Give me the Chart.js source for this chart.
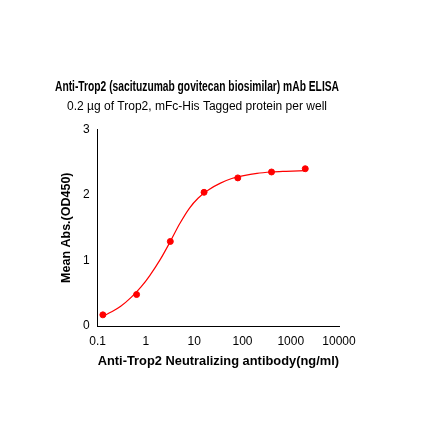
<!DOCTYPE html>
<html><head><meta charset="utf-8">
<script src="https://cdn.jsdelivr.net/npm/chart.js@4"></script>
<style>body{margin:0;background:#fff}#w{width:440px;height:441px}</style>
</head><body><div id="w"><canvas id="c"></canvas></div>
<script>
const concentrations = [0.128, 0.64, 3.2, 16, 80, 400, 2000];
const absorbance = [0.17, 0.48, 1.29, 2.04, 2.26, 2.35, 2.40];
const curveX = [0.128, 0.2, 0.3, 0.5, 0.8, 1.2, 2, 3.2, 5, 8, 12, 20, 35, 60, 100, 200, 400, 800, 2000];
const curveY = [0.15, 0.22, 0.30, 0.44, 0.60, 0.77, 1.02, 1.29, 1.56, 1.80, 1.95, 2.08, 2.18, 2.25, 2.29, 2.33, 2.35, 2.36, 2.37];
const xTicks = [0.1, 1, 10, 100, 1000, 10000];
const yTicks = [0, 1, 2, 3];
const FONT = '"Liberation Sans", Arial, sans-serif';

new Chart(document.getElementById('c'), {
    type: 'scatter',
    data: {
        datasets: [{
            data: concentrations.map((x, i) => ({x: x, y: absorbance[i]})),
            backgroundColor: '#ff0000',
            borderColor: '#ff0000',
            pointRadius: 3,
            order: 0
        }, {
            type: 'line',
            data: curveX.map((x, i) => ({x: x, y: curveY[i]})),
            borderColor: '#ff0000',
            borderWidth: 1.2,
            pointRadius: 0,
            cubicInterpolationMode: 'monotone',
            fill: false,
            order: 1
        }]
    },
    options: {
        responsive: true,
        maintainAspectRatio: false,
        animation: false,
        layout: {padding: {left: 55, right: 101, top: 8, bottom: 68}},
        plugins: {
            legend: {display: false},
            tooltip: {enabled: false},
            title: {
                display: true,
                text: 'Anti-Trop2 (sacituzumab govitecan biosimilar) mAb ELISA',
                color: '#000',
                font: {family: FONT, size: 15, weight: 'bold'},
                padding: {top: 70, bottom: 3}
            },
            subtitle: {
                display: true,
                text: '0.2 µg of Trop2, mFc-His Tagged protein per well',
                color: '#000',
                font: {family: FONT, size: 12},
                padding: {bottom: 16}
            }
        },
        scales: {
            x: {
                type: 'logarithmic',
                min: 0.1, max: 10000,
                afterBuildTicks: s => { s.ticks = xTicks.map(v => ({value: v})); },
                ticks: {color: '#000', font: {family: FONT, size: 12}, callback: v => String(v), maxRotation: 0},
                grid: {display: false, drawTicks: true, tickLength: 5, tickColor: '#000'},
                border: {color: '#000', width: 1},
                title: {display: true, text: 'Anti-Trop2 Neutralizing antibody(ng/ml)', color: '#000',
                    font: {family: FONT, size: 13, weight: 'bold'}, padding: {top: 2}}
            },
            y: {
                min: 0, max: 3,
                afterBuildTicks: s => { s.ticks = yTicks.map(v => ({value: v})); },
                ticks: {color: '#000', font: {family: FONT, size: 12}},
                grid: {display: false, drawTicks: true, tickLength: 5, tickColor: '#000'},
                border: {color: '#000', width: 1},
                title: {display: true, text: 'Mean Abs.(OD450)', color: '#000',
                    font: {family: FONT, size: 12.5, weight: 'bold'}, padding: {bottom: 6}}
            }
        }
    }
});
</script>
</body></html>
